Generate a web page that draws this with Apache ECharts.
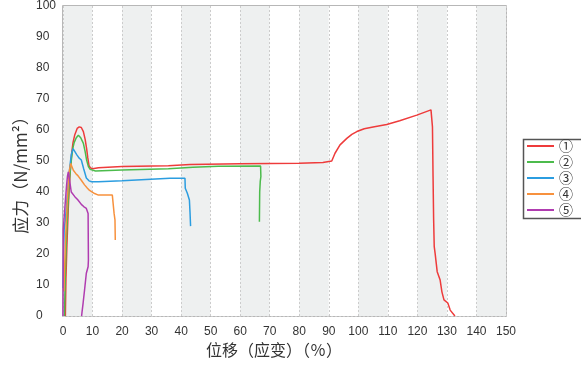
<!DOCTYPE html>
<html>
<head>
<meta charset="utf-8">
<script src="https://cdn.jsdelivr.net/npm/echarts@6/dist/echarts.min.js"></script>
<style>html,body{margin:0;padding:0;background:#fff}#c{width:581px;height:372px}</style>
</head>
<body>
<div id="c"></div>
<script>
var seriesNames = ['①', '②', '③', '④', '⑤'];
var xTicks = [0, 10, 20, 30, 40, 50, 60, 70, 80, 90, 100, 110, 120, 130, 140, 150];
var yTicks = [0, 10, 20, 30, 40, 50, 60, 70, 80, 90, 100];
var xTitle = '位移（应变）（％）';
var yTitle = '应力（N/mm²）';

var x1 = [0.8, 1.0, 1.3, 1.8, 2.2, 2.6, 3.0, 3.4, 4.0, 4.8, 5.5, 6.2, 6.9, 7.5, 8.0, 8.4, 8.8, 9.3, 10, 12, 20, 35.7, 43, 60, 80, 88, 91, 92.1, 93.8, 96.1, 97.8, 99.5, 102, 105, 109.6, 114, 119.8, 124.6, 125.1, 125.3, 125.5, 125.7, 126.0, 126.7, 127.7, 128.3, 129.0, 130.3, 131.1, 132.7];
var y1 = [0, 12, 22, 35, 43, 49, 53, 56, 58.5, 60.5, 61, 60.8, 59.5, 57, 54, 51, 48.5, 47.8, 47.5, 47.8, 48.2, 48.5, 48.9, 49.1, 49.3, 49.5, 50, 52.5, 55.2, 57.3, 58.6, 59.5, 60.4, 61, 61.8, 63, 64.8, 66.5, 61, 45, 31, 22.4, 20.2, 14.3, 11.6, 7.8, 5.2, 4.2, 1.9, 0];

var x2 = [0.5, 0.8, 1.2, 1.7, 2.2, 2.8, 3.3, 3.8, 4.5, 5.2, 6.0, 6.9, 7.5, 8.0, 8.6, 9.2, 9.7, 11, 20, 35.7, 44, 52.6, 66.9, 67.0, 66.8, 66.6, 66.5];
var y2 = [0, 14, 26, 36, 44, 50, 54, 56, 57.5, 58.3, 57.5, 55.7, 53, 50.3, 48.2, 47.3, 47, 46.8, 47.1, 47.5, 48, 48.3, 48.4, 45, 43.5, 40, 30.4];

var x3 = [0, 0.2, 0.4, 0.8, 1.3, 1.8, 2.3, 2.8, 3.4, 4.0, 4.7, 5.4, 6.2, 7.0, 7.9, 8.8, 9.7, 12, 20, 36.2, 41.3, 41.4, 42.1, 42.8, 43.0, 43.2];
var y3 = [9, 20, 28, 31, 37, 43, 48, 52, 54, 53.5, 52, 51, 50.3, 47.5, 44.5, 43.6, 43.3, 43.3, 43.6, 44.4, 44.4, 41.2, 39.6, 37.4, 33.6, 29];

var x4 = [0.3, 0.6, 1.0, 1.5, 2.0, 2.6, 3.5, 4.3, 5.1, 6.2, 7.3, 8.2, 9.0, 10.7, 12, 16.7, 17.0, 17.3, 17.6, 17.7];
var y4 = [8, 17, 28, 38, 46, 49.2, 47, 46, 45.2, 43.8, 42.3, 41.3, 40.5, 39.5, 39, 39, 38.5, 33.1, 31, 24.5];

var x5 = [0, 0.1, 0.4, 0.8, 1.2, 1.5, 1.8, 2.2, 2.8, 4.0, 5.0, 6.2, 7.0, 7.9, 8.5, 8.6, 8.5, 7.9, 7.3, 6.8, 6.4, 6.3];
var y5 = [0, 28, 32, 37, 42, 45, 46.5, 44, 40, 38.5, 37.5, 36, 35.3, 34.7, 33.1, 18, 15.9, 13.8, 8.4, 4.1, 0.9, 0];

var colors = ['#ee3b3b', '#4cbb4c', '#2b9de0', '#f7913d', '#b03cb0'];
var xs = [x1, x2, x3, x4, x5];
var ys = [y1, y2, y3, y4, y5];

function zip(a, b) { return a.map(function (v, i) { return [v, b[i]]; }); }

var series = seriesNames.map(function (n, i) {
  return {
    name: n, type: 'line', data: zip(xs[i], ys[i]),
    showSymbol: false, symbol: 'none',
    lineStyle: { color: colors[i], width: 1.5 },
    itemStyle: { color: colors[i] },
    animation: false
  };
});

var font = "'Liberation Sans', Arial, sans-serif";
var cjk = "'Noto Sans CJK SC', sans-serif";

var chart = echarts.init(document.getElementById('c'));
chart.setOption({
  animation: false,
  backgroundColor: '#fff',
  grid: { left: 63, right: 75, top: 6, bottom: 56, show: true, borderColor: '#a0a0a0', borderWidth: 1.5, backgroundColor: 'transparent' },
  legend: {
    orient: 'vertical', left: 527, top: 138, padding: 0, itemGap: 0,
    itemWidth: 27, itemHeight: 2, icon: 'rect',
    textStyle: { fontSize: 14, lineHeight: 16, color: '#333', fontFamily: cjk },
    data: seriesNames
  },
  graphic: [{
    type: 'rect', shape: { x: 523.5, y: 139.5, width: 70, height: 79 },
    style: { fill: 'none', stroke: '#555', lineWidth: 1.5 }, silent: true
  }, {
    type: 'text', x: 21, y: 171, rotation: Math.PI / 2, silent: true,
    style: { text: yTitle, font: "17px " + cjk, fill: '#333', align: 'center', verticalAlign: 'middle' }
  }, {
    type: 'text', x: 274, y: 350, silent: true,
    style: { text: xTitle, font: "16px " + cjk, fill: '#333', align: 'center', verticalAlign: 'middle' }
  }],
  xAxis: {
    type: 'value', min: xTicks[0], max: xTicks[xTicks.length - 1], interval: 10,
    axisLine: { show: false }, axisTick: { show: false },
    axisLabel: { fontSize: 12, color: '#333', margin: 10, fontFamily: font },
    splitLine: { show: true, lineStyle: { color: '#cccccc', type: [2, 2], width: 1 } },
    splitArea: { show: true, areaStyle: { color: ['#eef0f0', '#ffffff'] } }
  },
  yAxis: {
    type: 'value', min: yTicks[0], max: yTicks[yTicks.length - 1], interval: 10,
    axisLine: { show: false }, axisTick: { show: false },
    axisLabel: { fontSize: 12, color: '#333', margin: 27, align: 'left', fontFamily: font },
    splitLine: { show: true, lineStyle: { color: '#cccccc', type: [2, 2], width: 1 } }
  },
  series: series
});
</script>
</body>
</html>
